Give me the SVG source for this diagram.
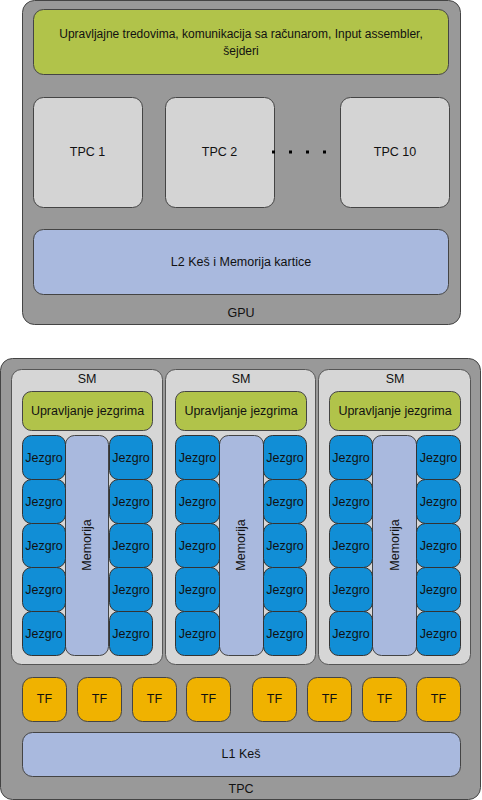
<svg xmlns="http://www.w3.org/2000/svg" width="482" height="800" viewBox="0 0 482 800">
<defs>
<style>
text{font-family:"Liberation Sans",Arial,sans-serif;font-size:12.5px;fill:#111;text-anchor:middle;dominant-baseline:central}
.long{font-size:12px}
.outer{fill:#999999;stroke:#444;stroke-width:1}
.green{fill:#b1c34a;stroke:#444;stroke-width:1}
.gray{fill:#d4d4d4;stroke:#444;stroke-width:1}
.lav{fill:#a9b9de;stroke:#444;stroke-width:1}
.sm{fill:#d6d6d6;stroke:#555;stroke-width:1}
.core{fill:#118ed6;stroke:#333;stroke-width:1}
.tf{fill:#f0b200;stroke:#444;stroke-width:1}
.dot{fill:#000}
</style>
</defs>
<rect width="482" height="800" fill="#ffffff"/>

<g id="gpu">
<rect class="outer" x="22.5" y="0.5" width="438" height="324" rx="12"/>
<text x="241" y="313">GPU</text>
</g>
<g id="control">
<rect class="green" x="33.5" y="9.5" width="415" height="65" rx="10"/>
<text class="long" x="241" y="34">Upravljajne tredovima, komunikacija sa računarom, Input assembler,</text>
<text class="long" x="241" y="51">šejderi</text>
</g>
<g id="tpc1">
<rect class="gray" x="33.5" y="97.5" width="109" height="110" rx="10"/>
<text x="87.5" y="152">TPC 1</text>
</g>
<g id="tpc2">
<rect class="gray" x="165.5" y="97.5" width="109" height="110" rx="10"/>
<text x="219.5" y="152">TPC 2</text>
</g>
<g id="dots">
<rect class="dot" x="272" y="150.5" width="3" height="3"/>
<rect class="dot" x="289" y="150.5" width="3" height="3"/>
<rect class="dot" x="306" y="150.5" width="3" height="3"/>
<rect class="dot" x="323" y="150.5" width="3" height="3"/>
</g>
<g id="tpc10">
<rect class="gray" x="340.5" y="97.5" width="109" height="110" rx="10"/>
<text x="395" y="152">TPC 10</text>
</g>
<g id="l2">
<rect class="lav" x="33.5" y="229.5" width="415" height="65" rx="10"/>
<text x="241" y="262">L2 Keš i Memorija kartice</text>
</g>

<g id="tpc">
<rect class="outer" x="0.5" y="358.5" width="480" height="441" rx="12"/>
<text x="241" y="789">TPC</text>
</g>

<g id="sm1">
<rect class="sm" x="11.5" y="369.5" width="151" height="295" rx="10"/>
<text x="87" y="379">SM</text>
<rect class="green" x="22.5" y="391.5" width="130" height="39" rx="9"/>
<text x="87.5" y="411">Upravljanje jezgrima</text>
<rect class="lav" x="65.5" y="435.5" width="43" height="220" rx="9"/>
<text transform="translate(87,545) rotate(-90)" x="0" y="0">Memorija</text>
<g>
<rect class="core" x="22.5" y="435.5" width="43" height="44" rx="9"/><text x="44" y="457.5">Jezgro</text>
<rect class="core" x="22.5" y="479.5" width="43" height="44" rx="9"/><text x="44" y="501.5">Jezgro</text>
<rect class="core" x="22.5" y="523.5" width="43" height="44" rx="9"/><text x="44" y="545.5">Jezgro</text>
<rect class="core" x="22.5" y="567.5" width="43" height="44" rx="9"/><text x="44" y="589.5">Jezgro</text>
<rect class="core" x="22.5" y="611.5" width="43" height="44" rx="9"/><text x="44" y="633.5">Jezgro</text>
<rect class="core" x="109.5" y="435.5" width="43" height="44" rx="9"/><text x="131" y="457.5">Jezgro</text>
<rect class="core" x="109.5" y="479.5" width="43" height="44" rx="9"/><text x="131" y="501.5">Jezgro</text>
<rect class="core" x="109.5" y="523.5" width="43" height="44" rx="9"/><text x="131" y="545.5">Jezgro</text>
<rect class="core" x="109.5" y="567.5" width="43" height="44" rx="9"/><text x="131" y="589.5">Jezgro</text>
<rect class="core" x="109.5" y="611.5" width="43" height="44" rx="9"/><text x="131" y="633.5">Jezgro</text>
</g>
</g>

<g id="sm2">
<rect class="sm" x="165.5" y="369.5" width="150" height="295" rx="10"/>
<text x="241" y="379">SM</text>
<rect class="green" x="175.5" y="391.5" width="131" height="39" rx="9"/>
<text x="241" y="411">Upravljanje jezgrima</text>
<rect class="lav" x="219.5" y="435.5" width="44" height="220" rx="9"/>
<text transform="translate(241,545) rotate(-90)" x="0" y="0">Memorija</text>
<g>
<rect class="core" x="175.5" y="435.5" width="44" height="44" rx="9"/><text x="197.5" y="457.5">Jezgro</text>
<rect class="core" x="175.5" y="479.5" width="44" height="44" rx="9"/><text x="197.5" y="501.5">Jezgro</text>
<rect class="core" x="175.5" y="523.5" width="44" height="44" rx="9"/><text x="197.5" y="545.5">Jezgro</text>
<rect class="core" x="175.5" y="567.5" width="44" height="44" rx="9"/><text x="197.5" y="589.5">Jezgro</text>
<rect class="core" x="175.5" y="611.5" width="44" height="44" rx="9"/><text x="197.5" y="633.5">Jezgro</text>
<rect class="core" x="263.5" y="435.5" width="43" height="44" rx="9"/><text x="285" y="457.5">Jezgro</text>
<rect class="core" x="263.5" y="479.5" width="43" height="44" rx="9"/><text x="285" y="501.5">Jezgro</text>
<rect class="core" x="263.5" y="523.5" width="43" height="44" rx="9"/><text x="285" y="545.5">Jezgro</text>
<rect class="core" x="263.5" y="567.5" width="43" height="44" rx="9"/><text x="285" y="589.5">Jezgro</text>
<rect class="core" x="263.5" y="611.5" width="43" height="44" rx="9"/><text x="285" y="633.5">Jezgro</text>
</g>
</g>

<g id="sm3">
<rect class="sm" x="318.5" y="369.5" width="152" height="295" rx="10"/>
<text x="395" y="379">SM</text>
<rect class="green" x="329.5" y="391.5" width="131" height="39" rx="9"/>
<text x="395" y="411">Upravljanje jezgrima</text>
<rect class="lav" x="372.5" y="435.5" width="44" height="220" rx="9"/>
<text transform="translate(394.5,545) rotate(-90)" x="0" y="0">Memorija</text>
<g>
<rect class="core" x="329.5" y="435.5" width="43" height="44" rx="9"/><text x="351" y="457.5">Jezgro</text>
<rect class="core" x="329.5" y="479.5" width="43" height="44" rx="9"/><text x="351" y="501.5">Jezgro</text>
<rect class="core" x="329.5" y="523.5" width="43" height="44" rx="9"/><text x="351" y="545.5">Jezgro</text>
<rect class="core" x="329.5" y="567.5" width="43" height="44" rx="9"/><text x="351" y="589.5">Jezgro</text>
<rect class="core" x="329.5" y="611.5" width="43" height="44" rx="9"/><text x="351" y="633.5">Jezgro</text>
<rect class="core" x="416.5" y="435.5" width="44" height="44" rx="9"/><text x="438.5" y="457.5">Jezgro</text>
<rect class="core" x="416.5" y="479.5" width="44" height="44" rx="9"/><text x="438.5" y="501.5">Jezgro</text>
<rect class="core" x="416.5" y="523.5" width="44" height="44" rx="9"/><text x="438.5" y="545.5">Jezgro</text>
<rect class="core" x="416.5" y="567.5" width="44" height="44" rx="9"/><text x="438.5" y="589.5">Jezgro</text>
<rect class="core" x="416.5" y="611.5" width="44" height="44" rx="9"/><text x="438.5" y="633.5">Jezgro</text>
</g>
</g>

<g id="tf1"><rect class="tf" x="22.5" y="677.5" width="44" height="44" rx="10"/><text x="44.5" y="699">TF</text></g>
<g id="tf2"><rect class="tf" x="77.5" y="677.5" width="44" height="44" rx="10"/><text x="99.5" y="699">TF</text></g>
<g id="tf3"><rect class="tf" x="132.5" y="677.5" width="44" height="44" rx="10"/><text x="154.5" y="699">TF</text></g>
<g id="tf4"><rect class="tf" x="186.5" y="677.5" width="44" height="44" rx="10"/><text x="208.5" y="699">TF</text></g>
<g id="tf5"><rect class="tf" x="252.5" y="677.5" width="44" height="44" rx="10"/><text x="274.5" y="699">TF</text></g>
<g id="tf6"><rect class="tf" x="307.5" y="677.5" width="44" height="44" rx="10"/><text x="329.5" y="699">TF</text></g>
<g id="tf7"><rect class="tf" x="362.5" y="677.5" width="44" height="44" rx="10"/><text x="384.5" y="699">TF</text></g>
<g id="tf8"><rect class="tf" x="416.5" y="677.5" width="44" height="44" rx="10"/><text x="438.5" y="699">TF</text></g>

<g id="l1">
<rect class="lav" x="22.5" y="732.5" width="438" height="44" rx="10"/>
<text x="241" y="754">L1 Keš</text>
</g>

<g id="connectors"></g>
</svg>
